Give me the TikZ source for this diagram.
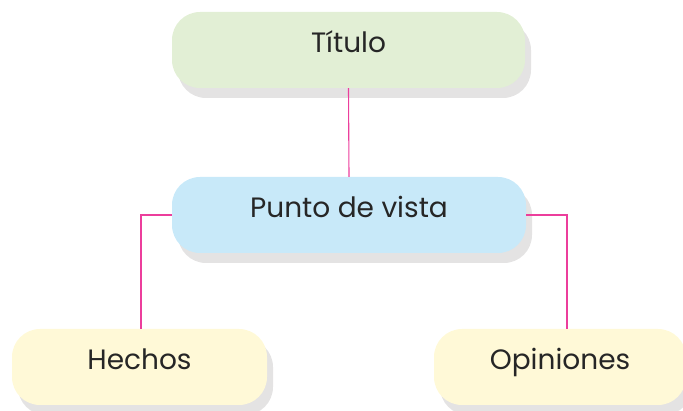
\documentclass[tikz,border=0pt]{standalone}
\usepackage{fontspec}
\setmainfont{Poppins}
\usetikzlibrary{shadows}

\definecolor{tituloverde}{HTML}{E2EFD5}
\definecolor{puntoazul}{HTML}{C8E9F9}
\definecolor{hechoamarillo}{HTML}{FFF9D7}
\definecolor{sombragris}{HTML}{E4E3E3}
\definecolor{lineamagenta}{HTML}{EC3E9C}

\begin{document}
\begin{tikzpicture}[x=1pt,y=-1pt]
  % Page size (matches the reference)
  \useasboundingbox (0,0) rectangle (683,411);

  \tikzset{
    caja/.style={rounded corners=28pt, minimum height=76pt,
      inner sep=0pt, text height=20pt, text depth=14pt,
      font=\fontsize{28}{32}\selectfont, text=black!85,
      drop shadow={shadow xshift=6pt, shadow yshift=-10pt,
        fill=sombragris, opacity=1}},
    enlace/.style={draw=lineamagenta, line width=1.1pt}
  }

  % Boxes
  \node[caja, fill=tituloverde, minimum width=353pt] (tit) at (348.5,50) {Título};
  \node[caja, fill=puntoazul, minimum width=354pt] (pdv) at (349,215) {Punto de vista};
  \node[caja, fill=hechoamarillo, minimum width=255pt] (hec) at (139.5,367) {Hechos};
  \node[caja, fill=hechoamarillo, minimum width=252pt] (opi) at (560,367) {Opiniones};

  % Connectors
  \draw[enlace] (tit.south) -- (pdv.north);
  \draw[enlace] (pdv.west) -| ([xshift=1.5pt]hec.north);
  \draw[enlace] (pdv.east) -| ([xshift=7pt]opi.north);

\end{tikzpicture}
\end{document}
